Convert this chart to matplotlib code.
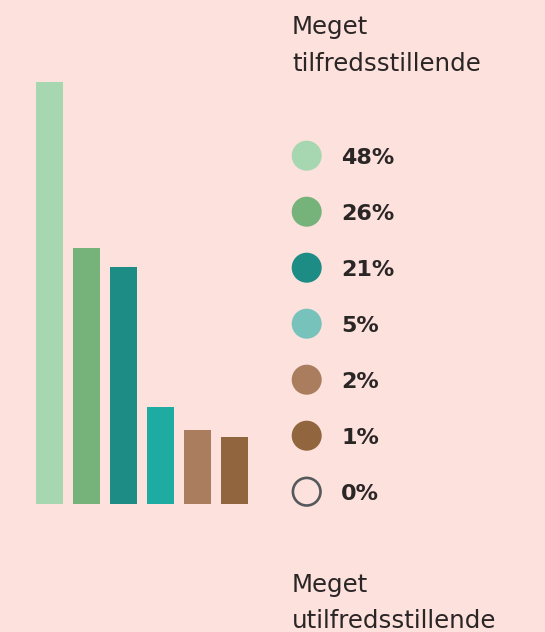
import matplotlib
matplotlib.use("Agg")
import matplotlib.pyplot as plt
from matplotlib.patches import Circle

# data
labels = ["48%", "26%", "21%", "5%", "2%", "1%", "0%"]
bar_heights = [48, 29.1, 26.9, 11.0, 8.4, 7.6]
bar_colors = ["#a6d7b0", "#75b37b", "#1c8c84", "#1eaba2", "#a97d5e", "#91653d"]
dot_colors = ["#a6d7b0", "#75b37b", "#1c8c84", "#77c3bc", "#a97d5e", "#91653d", None]
top_label = ["Meget", "tilfredsstillende"]
bottom_label = ["Meget", "utilfredsstillende"]

bg = "#fde1dd"
txt = "#2b2626"
W, H = 545, 632

fig = plt.figure(figsize=(W / 100, H / 100), dpi=100, facecolor=bg)

# bars
ax = fig.add_axes([30.8 / W, (H - 503.7) / H, 222 / W, 421.7 / H])
ax.set_facecolor(bg)
ax.bar(range(len(bar_heights)), bar_heights, width=0.73, color=bar_colors)
ax.set_xlim(-0.5, 5.5)
ax.set_ylim(0, 48)
ax.axis("off")

# legend overlay in pixel coords
ov = fig.add_axes([0, 0, 1, 1], facecolor="none")
ov.set_xlim(0, W)
ov.set_ylim(H, 0)
ov.axis("off")

y0, dy = 155.7, 56
for i, (lab, col) in enumerate(zip(labels, dot_colors)):
    y = y0 + dy * i
    if col is None:
        ov.add_patch(Circle((306.7, y), 13.8, facecolor="none",
                            edgecolor="#55595b", linewidth=1.9))
    else:
        ov.add_patch(Circle((306.7, y), 15, facecolor=col, edgecolor="none"))
    ov.text(341, y + 8, lab, fontsize=16, fontweight="bold",
            family="DejaVu Sans", color=txt, va="baseline", ha="left")

# end labels, one text per line with explicit baselines
for lines, bases in [(top_label, (34, 71)), (bottom_label, (591.7, 627.5))]:
    for s, b in zip(lines, bases):
        ov.text(292, b, s, fontsize=17.6, family="DejaVu Sans", color=txt,
                va="baseline", ha="left")

fig.savefig("out.png", dpi=100, facecolor=bg)
